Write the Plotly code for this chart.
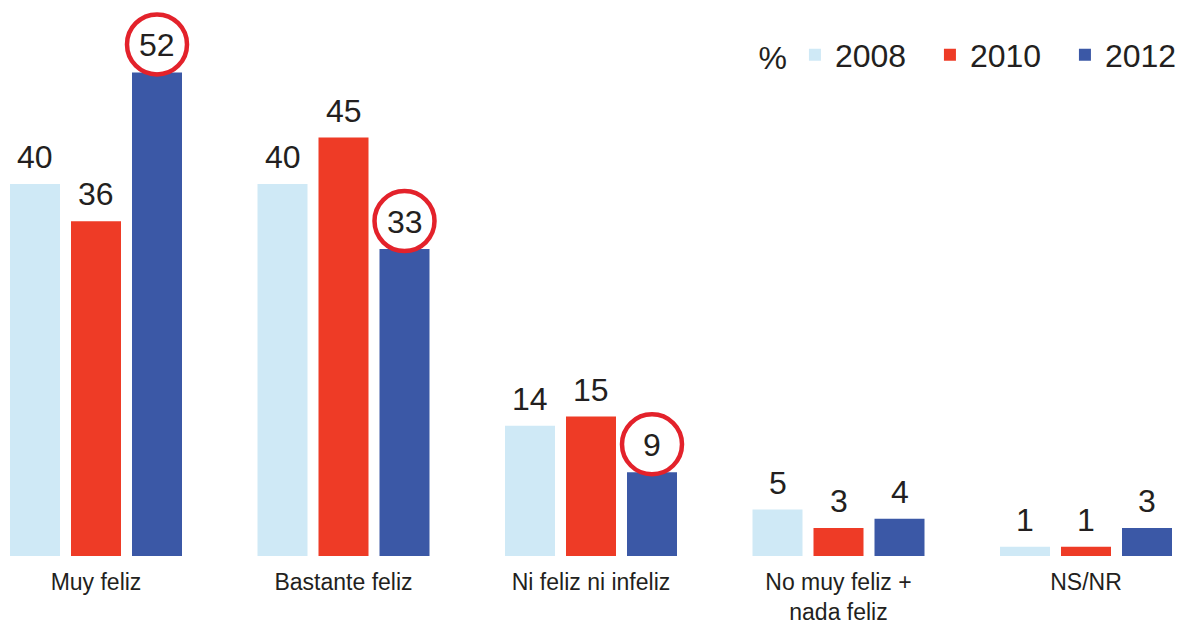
import plotly.graph_objects as go

categories = ["Muy feliz", "Bastante feliz", "Ni feliz ni infeliz", "No muy feliz +<br>nada feliz", "NS/NR"]
years = ["2008", "2010", "2012"]
values_2008 = [40, 40, 14, 5, 1]
values_2010 = [36, 45, 15, 3, 1]
values_2012 = [52, 33, 9, 4, 3]
circled_2012 = [True, True, True, False, False]

series = [values_2008, values_2010, values_2012]
colors = ["#CFE9F6", "#EE3B26", "#3B58A6"]
text_color = "#231F20"
circle_color = "#E3222B"
font_family = "Liberation Sans, Arial"

W, H = 1181, 625
px_per_cat = 247.5
bar_w = 50 / px_per_cat
gap = 11 / px_per_cat
offsets = [-1.5 * bar_w - gap + k * (bar_w + gap) for k in range(3)]

xs = list(range(len(categories)))
fig = go.Figure()
for k, (yr, vals) in enumerate(zip(years, series)):
    fig.add_trace(go.Bar(
        x=xs, y=vals, name=yr,
        marker=dict(color=colors[k], line=dict(width=0)),
        width=bar_w, offset=offsets[k],
    ))

annotations = []
shapes = []
for k, vals in enumerate(series):
    for i, v in enumerate(vals):
        xc = i + offsets[k] + bar_w / 2
        annotations.append(dict(
            x=xc, y=v, xref="x", yref="y", text=str(v), showarrow=False,
            yanchor="middle", yshift=27,
            font=dict(family=font_family, size=32, color=text_color),
        ))
        if k == 2 and circled_2012[i]:
            shapes.append(dict(
                type="circle", xref="x", yref="y",
                xsizemode="pixel", ysizemode="pixel",
                xanchor=xc, yanchor=v,
                x0=-30, x1=30, y0=28 - 30, y1=28 + 30,
                line=dict(color=circle_color, width=4.5),
            ))

fig.update_layout(
    width=W, height=H,
    margin=dict(l=0, r=0, t=0, b=69, autoexpand=False),
    paper_bgcolor="white", plot_bgcolor="white",
    barmode="overlay",
    showlegend=True,
    legend=dict(
        orientation="h", x=1.0165, xanchor="right", y=0.901, yanchor="middle",
        font=dict(family=font_family, size=32, color=text_color),
        title=dict(text="%", side="left", font=dict(family=font_family, size=32, color=text_color)),
        bgcolor="rgba(0,0,0,0)",
        entrywidth=90, entrywidthmode="pixels",
    ),
    xaxis=dict(
        range=[-96 / px_per_cat, -96 / px_per_cat + W / px_per_cat],
        tickmode="array", tickvals=xs, ticktext=categories,
        showgrid=False, zeroline=False, showline=False, ticks="",
        tickfont=dict(family=font_family, size=23, color=text_color),
        ticklabelstandoff=10,
    ),
    yaxis=dict(range=[0, 556 / 9.3], visible=False, showgrid=False, zeroline=False),
    annotations=annotations,
    shapes=shapes,
)

fig.write_html(
    "out.html",
    config={"displayModeBar": False},
    post_script="document.body.style.margin='0';document.body.style.padding='0';",
)
